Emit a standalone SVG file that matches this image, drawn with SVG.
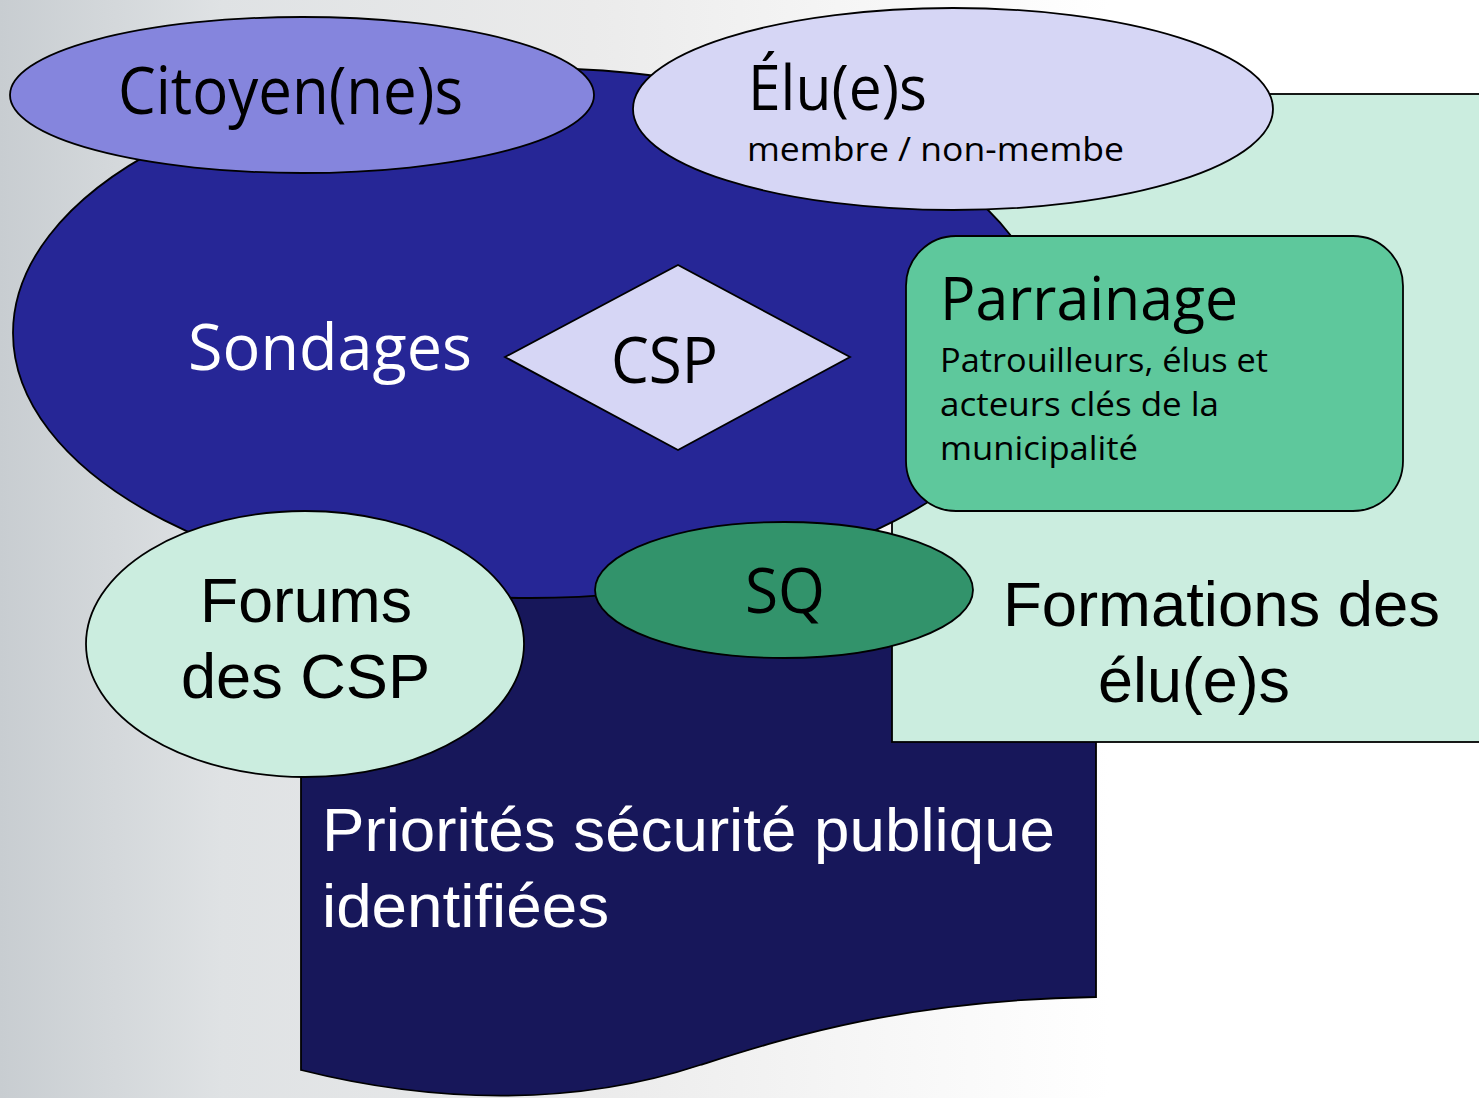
<svg xmlns="http://www.w3.org/2000/svg" width="1479" height="1098" viewBox="0 0 1479 1098">
  <defs>
    <linearGradient id="bg" x1="0" y1="0" x2="1" y2="0">
      <stop offset="0" stop-color="#c8cdd1"/>
      <stop offset="0.15" stop-color="#dfe2e4"/>
      <stop offset="0.4" stop-color="#ebebeb"/>
      <stop offset="0.6" stop-color="#f7f7f7"/>
      <stop offset="0.75" stop-color="#ffffff"/>
      <stop offset="1" stop-color="#ffffff"/>
    </linearGradient>
  </defs>
  <style>
    .shape { stroke: #000; stroke-width: 1.8; }
    .humanist { font-family: "Open Sans", "Noto Sans", "Liberation Sans", sans-serif; }
    .grotesk { font-family: "Liberation Sans", Arial, sans-serif; }
    .dark { fill: #000; }
    .light { fill: #fff; }
  </style>

  <rect x="0" y="0" width="1479" height="1098" fill="url(#bg)"/>

  <!-- Priorités: document shape with wavy bottom -->
  <g id="priorites">
    <path class="shape" fill="#17175a" d="M301,560 L1096,560 L1096,997 C900,1000 780,1040 700,1065 C580,1105 440,1105 301,1070 Z"/>
    <text class="grotesk light" font-size="62" x="322" y="851" textLength="733" lengthAdjust="spacingAndGlyphs">Priorités sécurité publique</text>
    <text class="grotesk light" font-size="62" x="322" y="927" textLength="287" lengthAdjust="spacingAndGlyphs">identifiées</text>
  </g>

  <!-- Formations des élu(e)s: large panel on the right -->
  <g id="formations">
    <rect class="shape" fill="#cbeddf" x="892" y="94" width="600" height="648"/>
    <text class="grotesk dark" font-size="63" x="1003" y="626" textLength="437" lengthAdjust="spacingAndGlyphs">Formations des</text>
    <text class="grotesk dark" font-size="63" x="1098" y="702" textLength="192" lengthAdjust="spacingAndGlyphs">élu(e)s</text>
  </g>

  <!-- Sondages: big blue ellipse -->
  <g id="sondages">
    <ellipse class="shape" fill="#262696" cx="530" cy="333" rx="517" ry="265"/>
    <text class="humanist light" font-size="64" x="188" y="370" textLength="284" lengthAdjust="spacingAndGlyphs">Sondages</text>
  </g>

  <g id="citoyens">
    <ellipse class="shape" fill="#8585dd" cx="302" cy="95" rx="292" ry="78"/>
    <text class="humanist dark" font-size="66" x="118" y="114" textLength="345" lengthAdjust="spacingAndGlyphs">Citoyen(ne)s</text>
  </g>

  <g id="elus">
    <ellipse class="shape" fill="#d6d6f5" cx="953" cy="109" rx="320" ry="101"/>
    <text class="humanist dark" font-size="62" x="748" y="110" textLength="179" lengthAdjust="spacingAndGlyphs">Élu(e)s</text>
    <text class="humanist dark" font-size="33" x="747" y="161" textLength="377" lengthAdjust="spacingAndGlyphs">membre / non-membe</text>
  </g>

  <g id="csp">
    <polygon class="shape" fill="#d6d6f5" points="505,357 678,265 850,357 678,450"/>
    <text class="humanist dark" font-size="64" x="611" y="383" textLength="107" lengthAdjust="spacingAndGlyphs">CSP</text>
  </g>

  <g id="parrainage">
    <rect class="shape" fill="#5ec89c" x="906" y="236" width="497" height="275" rx="50" ry="50"/>
    <text class="humanist dark" font-size="60" x="940" y="320" textLength="298" lengthAdjust="spacingAndGlyphs">Parrainage</text>
    <text class="humanist dark" font-size="33" x="940" y="372" textLength="328" lengthAdjust="spacingAndGlyphs">Patrouilleurs, élus et</text>
    <text class="humanist dark" font-size="33" x="940" y="416" textLength="279" lengthAdjust="spacingAndGlyphs">acteurs clés de la</text>
    <text class="humanist dark" font-size="33" x="940" y="460" textLength="198" lengthAdjust="spacingAndGlyphs">municipalité</text>
  </g>

  <g id="forums">
    <ellipse class="shape" fill="#cbeddf" cx="305" cy="644" rx="219" ry="133"/>
    <text class="grotesk dark" font-size="63" x="200" y="622" textLength="212" lengthAdjust="spacingAndGlyphs">Forums</text>
    <text class="grotesk dark" font-size="63" x="181" y="698" textLength="249" lengthAdjust="spacingAndGlyphs">des CSP</text>
  </g>

  <g id="sq">
    <ellipse class="shape" fill="#32936b" cx="784" cy="590" rx="189" ry="68"/>
    <text class="humanist dark" font-size="62" x="745" y="613" textLength="80" lengthAdjust="spacingAndGlyphs">SQ</text>
  </g>

  <!-- no connectors: the diagram is made of overlapping shapes -->
  <g id="connectors"/>
</svg>
